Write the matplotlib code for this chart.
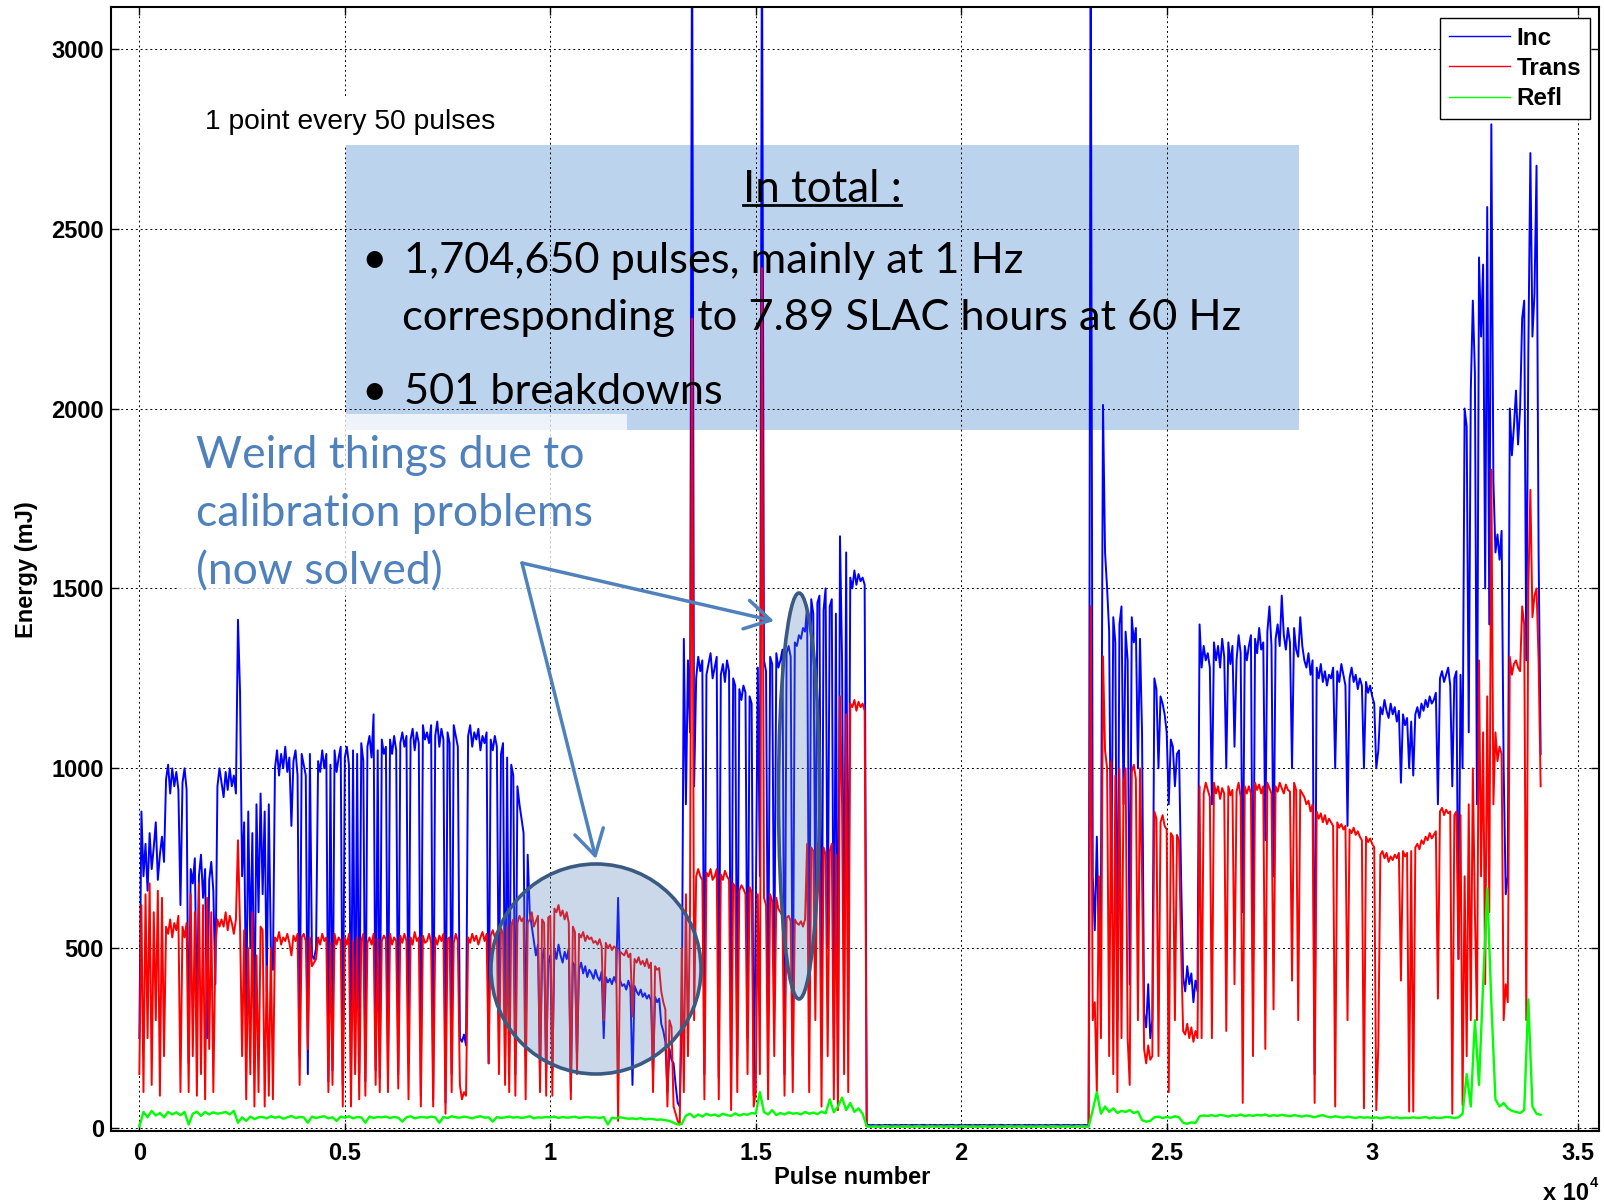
import numpy as np
import matplotlib
matplotlib.use('Agg')
import matplotlib.pyplot as plt
from matplotlib.patches import Rectangle, Ellipse
from matplotlib.lines import Line2D

plt.rcParams['font.family'] = ['Liberation Sans', 'DejaVu Sans']

W, H = 1604, 1204

# Inc / Trans read every 50 pulses, Refl every 100 pulses
pulse = np.arange(0, 34150, 50)
refl_pulse = np.arange(0, 34200, 100)

inc = [
    250, 880, 700, 790, 660, 820, 720, 780, 850, 690,           # 0
    760, 810, 740, 970, 1010, 930, 1000, 950, 990, 940,
    620, 960, 1000, 940, 180, 720, 680, 750, 300, 700,          # 1000
    760, 640, 720, 250, 690, 740, 660, 400, 950, 1000,
    960, 920, 990, 940, 1000, 950, 980, 930, 1413, 1212,        # 2000
    700, 850, 300, 880, 500, 820, 250, 900, 600, 930,
    650, 880, 380, 900, 500, 440, 1000, 1050, 980, 1040,        # 3000
    1000, 1060, 990, 1030, 840, 1020, 1050, 980, 200, 1040,
    1010, 980, 150, 1040, 480, 470, 500, 1020, 990, 1050,       # 4000
    1000, 1040, 130, 1010, 160, 1050, 990, 1030, 1060, 120,
    1030, 1060, 1010, 140, 1050, 180, 1040, 150, 1070, 1020,    # 5000
    130, 1060, 1090, 1030, 1150, 160, 1050, 140, 1080, 1040,
    1060, 170, 1080, 1040, 1090, 1050, 150, 1070, 1100, 1060,   # 6000
    1090, 180, 1080, 1110, 1050, 1100, 1070, 90, 1120, 1080,
    1100, 1070, 1120, 80, 1090, 1130, 1060, 1110, 1080, 70,     # 7000
    1100, 1070, 150, 1120, 1090, 1060, 250, 240, 260, 230,
    1090, 1120, 1060, 1100, 1080, 1110, 1050, 1090, 1070, 1100,  # 8000
    180, 1080, 1050, 1090, 1060, 300, 1040, 1070, 200, 1030,
    200, 1010, 980, 150, 950, 900, 860, 820, 200, 760,          # 9000
    600, 560, 520, 480, 510, 150, 470, 500, 160, 460,
    480, 160, 500, 470, 510, 480, 460, 490, 470, 500,           # 10000
    100, 460, 450, 200, 440, 460, 430, 450, 420, 440,
    430, 415, 440, 420, 410, 435, 250, 420, 405, 415,           # 11000
    400, 420, 405, 640, 410, 395, 400, 385, 410, 390,
    120, 395, 380, 370, 385, 365, 375, 360, 370, 355,           # 12000
    150, 365, 350, 360, 290, 270, 240, 100, 220, 190,
    180, 120, 70, 60, 300, 1360, 900, 1300, 1100, 3400,         # 13000
    950, 1250, 1310, 1270, 1300, 150, 1260, 1290, 1320, 1250,
    1280, 1310, 140, 1260, 1290, 1240, 1300, 1270, 100, 1250,   # 14000
    1230, 200, 1220, 1190, 1230, 1210, 250, 1200, 1180, 90,
    600, 1280, 700, 3400, 1300, 1270, 300, 1310, 1290, 400,     # 15000
    1320, 1280, 1300, 1330, 150, 1320, 1340, 1310, 200, 1350,
    1340, 1370, 1360, 1390, 1380, 1450, 300, 1470, 1430, 600,   # 16000
    1460, 1480, 200, 1440, 1500, 500, 1450, 1470, 250, 1430,
    100, 1645, 1300, 400, 1600, 300, 1530, 1500, 1550, 1510,    # 17000
    1540, 1520, 1530, 1510, 8, 9, 8, 9, 8, 8,
    9, 8, 8, 9, 8, 9, 8, 8, 9, 8,                               # 18000
    8, 9, 8, 9, 8, 8, 9, 8, 9, 8,
    8, 9, 9, 8, 8, 9, 8, 9, 8, 8,                               # 19000
    9, 8, 8, 9, 8, 9, 9, 8, 8, 9,
    8, 8, 9, 8, 9, 8, 8, 9, 8, 9,                               # 20000
    8, 9, 8, 8, 9, 8, 9, 8, 8, 9,
    9, 8, 8, 9, 8, 8, 9, 8, 9, 8,                               # 21000
    8, 9, 8, 9, 8, 9, 8, 8, 9, 8,
    8, 9, 8, 8, 9, 8, 9, 9, 8, 8,                               # 22000
    9, 8, 9, 8, 8, 9, 8, 9, 8, 8,
    9, 8, 9, 3400, 700, 550, 810, 505, 650, 2010,               # 23000
    1600, 1500, 1380, 600, 1420, 1350, 300, 1400, 1450, 900,
    1380, 1300, 400, 1420, 1350, 1390, 1000, 1360, 1100, 320,   # 24000
    280, 400, 250, 300, 1250, 1220, 1000, 1200, 1180, 1150,
    1100, 900, 1080, 1060, 950, 1040, 1050, 700, 420, 380,      # 25000
    450, 400, 430, 350, 410, 380, 1400, 1280, 1340, 1300,
    1320, 1280, 900, 1350, 1300, 1340, 1280, 1360, 1310, 1000,  # 26000
    1350, 1290, 1340, 1060, 1300, 1370, 1320, 600, 1340, 1300,
    1340, 1370, 400, 1360, 1320, 1390, 1330, 1350, 800, 1380,   # 27000
    1450, 1340, 700, 1360, 1400, 1340, 1480, 1370, 1330, 1390,
    1350, 1000, 1390, 1330, 1310, 1420, 1340, 1300, 1280, 1320,  # 28000
    1260, 1300, 150, 1280, 1250, 1290, 1240, 1270, 1230, 1260,
    1250, 1280, 1000, 1270, 1240, 1290, 1260, 1230, 840, 1250,  # 29000
    1280, 1240, 1260, 1220, 1250, 1230, 1000, 1240, 1210, 1230,
    1200, 1180, 1000, 1050, 1170, 1150, 1190, 1160, 1140, 1180,  # 30000
    1150, 1170, 1130, 1160, 960, 1150, 1120, 1140, 1000, 1130,
    980, 1150, 1170, 1140, 1180, 1160, 1190, 1170, 1200, 1180,  # 31000
    1190, 1210, 900, 1250, 1270, 1240, 1260, 1280, 1230, 950,
    1250, 1270, 470, 1260, 1000, 2000, 1950, 1100, 2050, 2300,  # 32000
    2100, 900, 2420, 2200, 2400, 1500, 2560, 1400, 2790, 1800,
    1600, 1650, 1580, 1660, 1000, 650, 700, 2000, 1870, 1950,   # 33000
    2050, 1900, 2000, 2250, 2300, 1300, 2150, 2710, 2200, 2320,
    2675, 1600, 1040,                                           # 34000
]

trans = [
    150, 620, 100, 650, 250, 680, 120, 600, 300, 660,           # 0
    90, 640, 200, 560, 540, 580, 530, 570, 550, 590,
    100, 560, 530, 570, 100, 650, 200, 600, 90, 680,            # 1000
    150, 620, 80, 640, 220, 600, 100, 500, 580, 560,
    580, 560, 600, 550, 590, 570, 540, 580, 800, 560,           # 2000
    200, 550, 80, 500, 150, 600, 60, 480, 100, 560,
    550, 60, 450, 90, 500, 80, 530, 520, 545, 510,              # 3000
    530, 520, 540, 515, 480, 535, 520, 540, 120, 530,
    540, 520, 220, 530, 450, 460, 470, 530, 510, 540,           # 4000
    520, 530, 100, 515, 120, 540, 510, 530, 520, 60,
    530, 510, 540, 60, 520, 150, 530, 80, 520, 540,             # 5000
    90, 515, 530, 510, 540, 120, 525, 100, 520, 535,
    525, 100, 540, 510, 530, 520, 110, 535, 515, 540,           # 6000
    520, 80, 530, 510, 545, 520, 530, 60, 535, 515,
    520, 540, 515, 60, 530, 510, 535, 520, 540, 40,             # 7000
    525, 530, 100, 515, 540, 520, 120, 80, 100, 90,
    530, 515, 540, 520, 535, 510, 530, 545, 520, 540,           # 8000
    180, 535, 550, 530, 545, 150, 555, 540, 120, 560,
    100, 565, 580, 90, 570, 590, 575, 585, 80, 570,             # 9000
    580, 600, 560, 575, 590, 100, 580, 570, 90, 585,
    590, 90, 610, 600, 620, 590, 605, 580, 600, 570,            # 10000
    80, 560, 545, 150, 540, 530, 545, 520, 535, 525,
    530, 515, 520, 510, 525, 505, 300, 515, 500, 510,           # 11000
    495, 505, 500, 20, 490, 485, 480, 495, 475, 485,
    310, 470, 460, 475, 455, 465, 450, 470, 445, 460,           # 12000
    100, 450, 440, 445, 380, 350, 330, 60, 300, 280,
    60, 40, 20, 10, 500, 100, 650, 200, 600, 2250,              # 13000
    300, 700, 720, 700, 690, 80, 710, 700, 720, 690,
    700, 720, 80, 705, 690, 715, 700, 690, 50, 680,             # 14000
    670, 100, 660, 675, 665, 650, 150, 670, 655, 60,
    100, 650, 150, 2390, 640, 620, 80, 650, 630, 200,           # 15000
    640, 610, 600, 590, 90, 585, 590, 575, 100, 580,
    570, 565, 575, 560, 580, 790, 100, 780, 770, 300,           # 16000
    790, 775, 60, 780, 760, 200, 770, 790, 80, 760,
    50, 1200, 900, 150, 1150, 100, 1180, 1170, 1190, 1160,      # 17000
    1185, 1170, 1180, 1160, 5, 5, 4, 5, 5, 4,
    5, 4, 5, 5, 4, 5, 4, 5, 5, 4,                               # 18000
    5, 5, 4, 5, 4, 5, 5, 4, 5, 5,
    4, 5, 5, 4, 5, 4, 5, 5, 4, 5,                               # 19000
    5, 4, 5, 5, 4, 5, 4, 5, 5, 4,
    5, 5, 4, 5, 5, 4, 5, 4, 5, 5,                               # 20000
    4, 5, 5, 4, 5, 5, 4, 5, 4, 5,
    5, 4, 5, 4, 5, 5, 4, 5, 5, 4,                               # 21000
    5, 5, 4, 5, 4, 5, 5, 4, 5, 5,
    4, 5, 5, 4, 5, 4, 5, 5, 4, 5,                               # 22000
    5, 4, 5, 5, 4, 5, 4, 5, 5, 4,
    5, 4, 5, 1450, 300, 350, 100, 700, 250, 1311,               # 23000
    1050, 1000, 200, 1020, 150, 980, 100, 1000, 250, 960,
    1000, 250, 120, 990, 1010, 970, 300, 1000, 700, 220,        # 24000
    180, 230, 190, 200, 880, 860, 200, 850, 870, 840,
    830, 100, 820, 810, 300, 815, 800, 500, 270, 260,           # 25000
    290, 250, 280, 240, 270, 250, 950, 250, 930, 960,
    940, 920, 250, 960, 930, 950, 915, 945, 930, 270,           # 26000
    950, 925, 940, 400, 935, 960, 920, 70, 950, 930,
    950, 930, 200, 960, 940, 955, 930, 950, 220, 960,           # 27000
    945, 930, 330, 950, 935, 960, 945, 930, 955, 940,
    935, 410, 960, 940, 300, 940, 930, 920, 900, 910,           # 28000
    880, 900, 70, 880, 860, 875, 850, 870, 845, 860,
    850, 840, 60, 850, 835, 845, 830, 840, 300, 830,            # 29000
    820, 835, 815, 825, 810, 800, 55, 810, 795, 805,
    790, 780, 50, 230, 760, 770, 750, 765, 740, 755,            # 30000
    745, 760, 750, 765, 410, 770, 755, 765, 46, 770,
    46, 780, 790, 775, 800, 790, 810, 800, 820, 805,            # 31000
    815, 825, 360, 880, 890, 870, 885, 875, 880, 40,
    870, 880, 470, 870, 64, 700, 200, 900, 300, 1000,           # 32000
    600, 300, 1300, 700, 1100, 400, 1200, 600, 1830, 900,
    1100, 1020, 1060, 1040, 300, 400, 350, 1310, 1260, 1290,    # 33000
    1300, 1280, 1270, 1450, 1400, 300, 1500, 1774, 1420, 1480,
    1500, 1300, 950,                                            # 34000
]

refl = [
    5, 45, 30, 48, 35, 42, 30, 45, 38, 44,     # 0
    36, 45, 10, 40, 46, 34, 45, 38, 44, 40,    # 1000
    42, 45, 38, 48, 15, 30, 20, 32, 25, 30,    # 2000
    31, 27, 33, 29, 32, 26, 30, 34, 28, 31,    # 3000
    30, 15, 32, 28, 31, 33, 27, 30, 20, 32,    # 4000
    29, 33, 27, 31, 30, 15, 32, 28, 31, 30,    # 5000
    32, 28, 31, 29, 18, 30, 33, 27, 30, 31,    # 6000
    29, 32, 30, 15, 31, 28, 33, 30, 29, 32,    # 7000
    30, 27, 31, 33, 29, 30, 18, 31, 28, 30,    # 8000
    32, 29, 31, 28, 30, 33, 27, 30, 29, 31,    # 9000
    30, 32, 28, 31, 29, 30, 32, 28, 30, 31,    # 10000
    29, 30, 28, 31, 10, 29, 27, 30, 28, 26,    # 11000
    27, 25, 28, 24, 26, 25, 23, 24, 22, 20,    # 12000
    15, 10, 12, 35, 40, 30, 38, 32, 40, 35,    # 13000
    38, 33, 40, 36, 34, 41, 35, 39, 37, 42,    # 14000
    40, 100, 45, 38, 50, 36, 42, 38, 44, 40,   # 15000
    42, 38, 45, 40, 43, 39, 46, 41, 80, 44,    # 16000
    60, 85, 50, 70, 45, 55, 40, 5, 4, 5,       # 17000
    4, 5, 5, 4, 5, 4, 5, 5, 4, 5,              # 18000
    5, 4, 5, 5, 4, 5, 4, 5, 5, 4,              # 19000
    5, 5, 4, 5, 4, 5, 5, 4, 5, 5,              # 20000
    4, 5, 5, 4, 5, 5, 4, 5, 4, 5,              # 21000
    5, 4, 5, 5, 4, 5, 5, 4, 5, 5,              # 22000
    5, 4, 50, 100, 40, 60, 45, 55, 42, 48,     # 23000
    45, 50, 42, 46, 22, 18, 20, 30, 32, 28,    # 24000
    31, 29, 33, 30, 15, 12, 16, 14, 33, 35,    # 25000
    34, 36, 33, 37, 35, 32, 36, 34, 38, 33,    # 26000
    36, 34, 37, 35, 38, 33, 36, 34, 37, 35,    # 27000
    33, 36, 34, 32, 35, 33, 30, 34, 36, 32,    # 28000
    30, 33, 31, 29, 32, 30, 28, 31, 29, 30,    # 29000
    28, 30, 27, 29, 31, 28, 30, 27, 29, 28,    # 30000
    30, 28, 29, 31, 27, 30, 28, 29, 31, 30,    # 31000
    28, 30, 40, 150, 60, 300, 120, 400, 666, 350,  # 32000
    80, 60, 70, 55, 48, 45, 42, 50, 358, 60,   # 33000
    40, 37,                                    # 34000
]

xticks = [0, 5000, 10000, 15000, 20000, 25000, 30000, 35000]
xticklabels = ['0', '0.5', '1', '1.5', '2', '2.5', '3', '3.5']
yticks = [0, 500, 1000, 1500, 2000, 2500, 3000]

bullets = ['1,704,650 pulses, mainly at 1 Hz',
           'corresponding  to 7.89 SLAC hours at 60 Hz',
           '501 breakdowns']
weird = ['Weird things due to', 'calibration problems', '(now solved)']


def fxy(px, py):
    # reference pixel -> figure fraction
    return px / W, 1 - py / H


fig = plt.figure(figsize=(W / 100, H / 100), dpi=100)
ax = fig.add_axes([111 / W, 1 - 1131 / H, (1599 - 111) / W, (1131 - 7) / H])

ax.plot(pulse, inc, color='#0000ff', lw=1.4, label='Inc', zorder=2)
ax.plot(pulse, trans, color='#ff0000', lw=1.4, label='Trans', zorder=2.1)
ax.plot(refl_pulse, refl, color='#00ff00', lw=1.7, label='Refl', zorder=2.2)

ax.set_xlim(-690, 35520)
ax.set_ylim(-8, 3116)
ax.set_xticks(xticks, xticklabels)
ax.set_yticks(yticks)
ax.tick_params(direction='in', length=6, width=1, top=True, right=True,
               labelsize=17)
ax.tick_params(axis='x', pad=8)
ax.tick_params(axis='y', pad=5)
for t in ax.get_xticklabels() + ax.get_yticklabels():
    t.set_fontweight('bold')
for s in ax.spines.values():
    s.set_linewidth(1.5)
ax.grid(True, color='black', linestyle=(0, (2, 3)), linewidth=0.7)

leg = ax.legend(loc='upper right', bbox_to_anchor=fxy(1590, 18),
                bbox_transform=fig.transFigure, borderaxespad=0,
                fancybox=False, edgecolor='black', framealpha=1,
                prop=dict(weight='bold', size=17.5), handlelength=2.5,
                labelspacing=0.3, borderpad=0.35, handletextpad=0.3)
leg.get_frame().set_linewidth(1.0)
for h in leg.get_lines():
    h.set_linewidth(1.0)
leg.set_zorder(10)

# axis labels
fig.text(852 / W, 1 - 1178 / H, 'Pulse number', ha='center', va='center',
         fontsize=17, fontweight='bold')
fig.text(26 / W, 1 - 570 / H, 'Energy (mJ)', ha='center', va='center',
         rotation=90, fontsize=17, fontweight='bold')
fig.text(1543 / W, 1 - 1194 / H, 'x 10', ha='left', va='center',
         fontsize=17, fontweight='bold')
fig.text(1590 / W, 1 - 1183 / H, '4', ha='left', va='center',
         fontsize=10.5, fontweight='bold')

# summary box
ax.add_patch(Rectangle(fxy(346, 430), (1299 - 346) / W, (430 - 145) / H,
                       transform=fig.transFigure, facecolor='#bcd3ee',
                       edgecolor='none', zorder=0.8))
# white backgrounds of the text boxes
ax.add_patch(Rectangle(fxy(177, 596), 450 / W, 182 / H,
                       transform=fig.transFigure, facecolor='white',
                       alpha=0.75, edgecolor='none', zorder=2.5))
ax.add_patch(Rectangle(fxy(190, 145), 320 / W, 49 / H,
                       transform=fig.transFigure, facecolor='white',
                       edgecolor='none', zorder=2.5))

fig.text(205 / W, 1 - 122 / H, '1 point every 50 pulses', ha='left',
         va='center', fontsize=20.3)

calib = ['Lato', 'DejaVu Sans']
t_total = fig.text(822 / W, 1 - 189 / H, 'In total :', ha='center',
                   va='center', fontsize=31.5, family=calib)
for (bx, by) in [(374, 261), (374, 392)]:
    fig.text(bx / W, 1 - by / H, '\u2022', ha='center', va='center',
             fontsize=31.5, family=calib)
for txt, (tx, ty) in zip(bullets, [(404, 261), (402, 318), (404, 392)]):
    fig.text(tx / W, 1 - ty / H, txt, ha='left', va='center', fontsize=31.2,
             family=calib)

for txt, ty in zip(weird, [456, 514, 572]):
    fig.text(196 / W, 1 - ty / H, txt, ha='left', va='center', fontsize=32,
             color='#4f81bd', family=calib)

# highlighted regions
face = (85 / 255, 128 / 255, 184 / 255, 0.3)
ax.add_patch(Ellipse(fxy(596, 969), 210 / W, 210 / H,
                     transform=fig.transFigure, facecolor=face,
                     edgecolor='#3b5a82', lw=2.6, zorder=3))
ax.add_patch(Ellipse(fxy(799, 796), 41 / W, 406 / H,
                     transform=fig.transFigure, facecolor=face,
                     edgecolor='#3b5a82', lw=2.6, zorder=3))

arrow = dict(arrowstyle='->, head_length=0.6, head_width=0.35',
             color='#4f81bd', lw=2.5, mutation_scale=30, shrinkA=0, shrinkB=0)
for head in [(774, 621), (596, 859)]:
    ax.annotate('', xy=fxy(*head), xytext=fxy(522, 563),
                xycoords='figure fraction', textcoords='figure fraction',
                arrowprops=arrow, zorder=4)

# underline "In total :"
fig.canvas.draw()
bb = t_total.get_window_extent()
fig.add_artist(Line2D([bb.x0 / W, bb.x1 / W], [1 - 205 / H, 1 - 205 / H],
                      transform=fig.transFigure, color='black', lw=2))

fig.savefig('out.png', dpi=100)
